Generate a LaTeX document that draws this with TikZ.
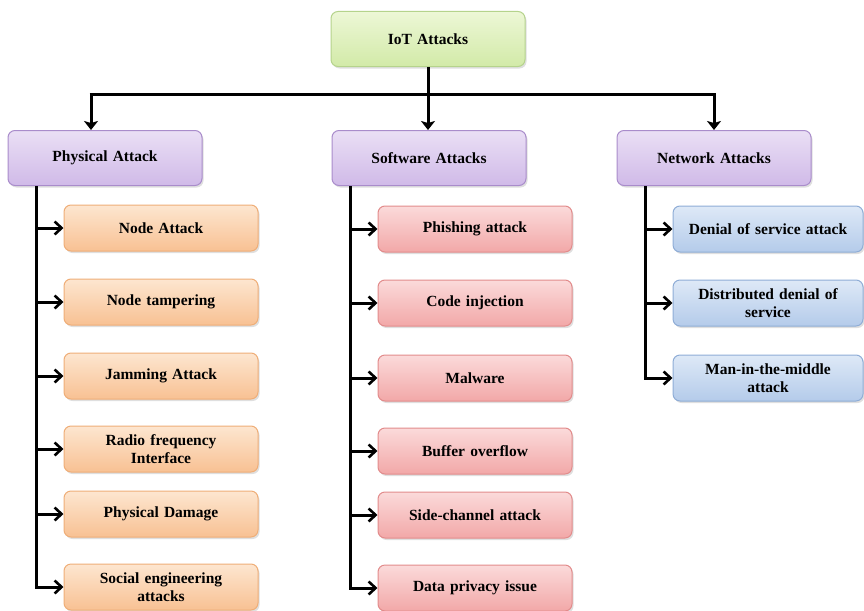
\documentclass[tikz,border=0pt]{standalone}
\usepackage{fontspec}
\setmainfont{Liberation Serif}
\usetikzlibrary{arrows.meta,shadows}

\definecolor{rootline}{HTML}{B5D38C}
\definecolor{roottop}{HTML}{EDF7D6}
\definecolor{rootbot}{HTML}{D2EAA8}
\definecolor{groupline}{HTML}{A98CCB}
\definecolor{grouptop}{HTML}{EADFF5}
\definecolor{groupbot}{HTML}{D0BAE8}
\definecolor{physline}{HTML}{EFAE78}
\definecolor{phystop}{HTML}{FDE6D0}
\definecolor{physbot}{HTML}{F8C193}
\definecolor{softline}{HTML}{E28C8C}
\definecolor{softtop}{HTML}{FBDADA}
\definecolor{softbot}{HTML}{F2A8A8}
\definecolor{netline}{HTML}{8FADD6}
\definecolor{nettop}{HTML}{DEE9F7}
\definecolor{netbot}{HTML}{B4CBEA}

\begin{document}
\begin{tikzpicture}
[
    x=1pt, y=-1pt,
    box/.style={rounded corners=7pt, line width=1pt, minimum width=194pt,
        minimum height=46pt, align=center, text width=186pt,
        font=\fontsize{15.5}{18.5}\selectfont\bfseries,
        drop shadow={shadow xshift=1.5pt, shadow yshift=-2pt, opacity=.25}},
    root/.style={box, draw=rootline, minimum height=55pt,
        top color=roottop, bottom color=rootbot},
    group/.style={box, draw=groupline, minimum height=55pt,
        top color=grouptop, bottom color=groupbot},
    phys/.style={box, draw=physline, top color=phystop, bottom color=physbot},
    soft/.style={box, draw=softline, top color=softtop, bottom color=softbot},
    net/.style={box, draw=netline, minimum width=190pt, text width=182pt,
        top color=nettop, bottom color=netbot},
    wire/.style={line width=3pt},
    down/.style={wire, -{Stealth[length=9pt, width=14pt, inset=2pt]}},
    side/.style={wire, -{Straight Barb[length=7pt, width=13pt, line width=2.6pt]}},
]
\useasboundingbox (0,0) rectangle (864,610);

\node [root] (iot) at (428,39) {IoT Attacks};

\node [group] (physical) at (105,158) {Physical Attack};
\node [group] (software) at (429,158) {Software Attacks};
\node [group] (network) at (714,158) {Network Attacks};

\node [phys] (p1) at (161,228) {Node Attack};
\node [phys] (p2) at (161,302) {Node tampering};
\node [phys] (p3) at (161,376) {Jamming Attack};
\node [phys] (p4) at (161,449) {Radio frequency\\Interface};
\node [phys] (p5) at (161,514) {Physical Damage};
\node [phys] (p6) at (161,587) {Social engineering\\attacks};

\node [soft] (s1) at (475,229) {Phishing attack};
\node [soft] (s2) at (475,303) {Code injection};
\node [soft] (s3) at (475,378) {Malware};
\node [soft] (s4) at (475,451) {Buffer overflow};
\node [soft] (s5) at (475,515) {Side-channel attack};
\node [soft] (s6) at (475,588) {Data privacy issue};

\node [net] (n1) at (768,229) {Denial of service attack};
\node [net] (n2) at (768,303) {Distributed denial of\\service};
\node [net] (n3) at (768,378) {Man-in-the-middle\\attack};

\coordinate (hub) at (428,94);
\coordinate (lt) at (91,94);
\coordinate (rt) at (714,94);
\draw [wire] (iot.south) -- (hub);
\draw [wire] ([xshift=-1.5pt]lt) -- ([xshift=1.5pt]rt);
\draw [down] (lt) -- (lt |- physical.north);
\draw [down] (hub) -- (hub |- software.north);
\draw [down] (rt) -- (rt |- network.north);

\coordinate (pt) at (36,186);
\coordinate (st) at (350,186);
\coordinate (nt) at (645,186);
\draw [wire] (pt) -- ([yshift=-1.5pt]pt |- p6.west);
\draw [wire] (st) -- ([yshift=-1.5pt]st |- s6.west);
\draw [wire] (nt) -- ([yshift=-1.5pt]nt |- n3.west);
\draw [side] (pt |- p1.west) -- (p1.west);
\draw [side] (pt |- p2.west) -- (p2.west);
\draw [side] (pt |- p3.west) -- (p3.west);
\draw [side] (pt |- p4.west) -- (p4.west);
\draw [side] (pt |- p5.west) -- (p5.west);
\draw [side] (pt |- p6.west) -- (p6.west);
\draw [side] (st |- s1.west) -- (s1.west);
\draw [side] (st |- s2.west) -- (s2.west);
\draw [side] (st |- s3.west) -- (s3.west);
\draw [side] (st |- s4.west) -- (s4.west);
\draw [side] (st |- s5.west) -- (s5.west);
\draw [side] (st |- s6.west) -- (s6.west);
\draw [side] (nt |- n1.west) -- (n1.west);
\draw [side] (nt |- n2.west) -- (n2.west);
\draw [side] (nt |- n3.west) -- (n3.west);
\end{tikzpicture}
\end{document}
